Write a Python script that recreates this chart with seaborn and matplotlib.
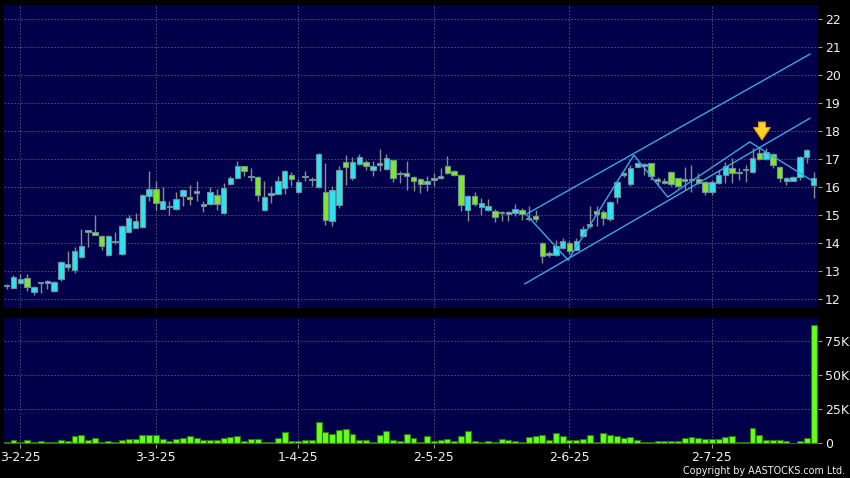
import matplotlib
matplotlib.use('Agg')
import numpy as np
import pandas as pd
import matplotlib.pyplot as plt
import seaborn as sns

# --- data -------------------------------------------------------------------

date_labels = ['3-2-25', '3-3-25', '1-4-25', '2-5-25', '2-6-25', '2-7-25']
date_idx = [2, 22, 43, 63, 83, 104]

opens = [12.45, 12.40, 12.57, 12.74, 12.24, 12.56, 12.58, 12.27, 12.72, 13.13,
         13.04, 13.49, 14.40, 14.38, 14.25, 13.56, 14.02, 13.60, 14.38, 14.55,
         14.57, 15.69, 15.93, 15.21, 15.29, 15.21, 15.67, 15.64, 15.80, 15.33,
         15.39, 15.70, 15.07, 16.11, 16.32, 16.74, 16.36, 16.36, 15.17, 15.73,
         15.76, 15.96, 16.42, 15.82, 16.36, 16.24, 16.00, 15.82, 14.80, 15.37,
         16.89, 16.32, 16.83, 16.89, 16.60, 16.80, 16.64, 16.95, 16.46, 16.50,
         16.35, 16.29, 16.10, 16.24, 16.32, 16.76, 16.56, 16.42, 15.17, 15.69,
         15.29, 15.17, 15.15, 15.07, 15.10, 15.07, 15.17, 14.89, 14.95, 14.00,
         13.58, 13.58, 13.84, 14.00, 13.76, 14.24, 14.60, 15.16, 15.10, 14.85,
         15.66, 16.43, 16.11, 16.73, 16.76, 16.85, 16.23, 16.23, 16.55, 16.31,
         16.23, 16.25, 16.28, 16.19, 15.84, 16.13, 16.43, 16.67, 16.49, 16.61,
         16.55, 17.20, 17.00, 17.17, 16.73, 16.22, 16.23, 16.37, 17.06, 16.08]
highs = [12.55, 12.85, 12.88, 12.88, 12.46, 12.58, 12.68, 12.65, 13.36, 13.71,
         13.87, 14.49, 14.42, 15.00, 14.27, 14.28, 14.40, 14.65, 15.00, 15.08,
         15.75, 16.58, 16.23, 16.00, 15.51, 15.81, 15.92, 16.08, 16.23, 15.51,
         16.00, 15.93, 16.14, 16.40, 16.94, 16.76, 16.68, 16.38, 16.20, 16.02,
         16.38, 16.60, 16.54, 16.30, 16.58, 16.36, 17.20, 16.86, 16.02, 16.76,
         17.15, 17.07, 17.18, 16.98, 16.92, 17.36, 17.18, 16.98, 16.56, 16.94,
         16.38, 16.31, 16.38, 16.50, 16.68, 17.12, 16.60, 16.45, 15.73, 15.81,
         15.60, 15.57, 15.21, 15.13, 15.13, 15.40, 15.25, 15.33, 15.19, 14.02,
         13.70, 14.12, 14.18, 14.06, 14.18, 14.60, 15.33, 15.33, 15.19, 15.50,
         16.25, 16.55, 16.79, 16.90, 16.87, 16.87, 16.35, 16.31, 16.58, 16.33,
         16.73, 16.79, 16.49, 16.20, 16.25, 16.61, 16.90, 17.02, 16.67, 16.79,
         17.38, 17.44, 17.38, 17.20, 16.75, 16.37, 16.40, 17.10, 17.35, 16.55]
lows = [12.35, 12.38, 12.55, 12.30, 12.14, 12.23, 12.35, 12.25, 12.64, 13.03,
        12.92, 13.45, 13.87, 14.28, 13.75, 13.55, 13.98, 13.58, 14.36, 14.52,
        14.55, 15.49, 15.17, 15.20, 15.00, 15.17, 15.33, 15.37, 15.49, 15.10,
        15.37, 15.19, 15.05, 16.08, 16.30, 16.38, 16.20, 15.49, 15.15, 15.43,
        15.74, 15.75, 16.02, 15.80, 16.20, 16.02, 15.95, 14.65, 14.60, 15.25,
        16.06, 16.26, 16.80, 16.62, 16.40, 16.56, 16.60, 16.17, 16.14, 15.90,
        15.85, 15.80, 15.85, 16.02, 16.30, 16.48, 16.40, 15.13, 14.77, 15.31,
        14.99, 15.15, 14.74, 14.77, 14.80, 14.95, 14.83, 14.77, 14.74, 13.29,
        13.50, 13.55, 13.80, 13.62, 13.74, 14.20, 14.53, 14.60, 14.65, 14.80,
        15.42, 16.35, 16.05, 16.70, 16.43, 16.25, 16.07, 16.10, 16.02, 15.98,
        15.90, 15.84, 16.10, 15.72, 15.72, 16.10, 16.16, 16.16, 16.25, 16.19,
        16.50, 16.96, 16.96, 16.67, 16.19, 16.07, 16.20, 16.25, 16.85, 15.60]
closes = [12.45, 12.77, 12.73, 12.44, 12.42, 12.56, 12.58, 12.62, 13.31, 13.25,
          13.71, 13.90, 14.40, 14.29, 13.90, 14.26, 14.02, 14.62, 14.88, 14.80,
          15.73, 15.93, 15.43, 15.50, 15.29, 15.57, 15.90, 15.57, 15.80, 15.33,
          15.82, 15.39, 15.96, 16.32, 16.76, 16.56, 16.36, 15.70, 15.64, 15.73,
          16.20, 16.56, 16.29, 16.18, 16.36, 16.24, 17.18, 14.83, 15.88, 16.60,
          16.71, 16.88, 17.07, 16.74, 16.74, 16.80, 17.04, 16.32, 16.46, 16.40,
          16.20, 16.11, 16.20, 16.32, 16.40, 16.50, 16.42, 15.37, 15.69, 15.39,
          15.43, 15.31, 14.93, 15.07, 15.05, 15.21, 15.05, 14.86, 14.86, 13.55,
          13.58, 13.88, 14.08, 13.70, 14.08, 14.51, 14.68, 15.03, 14.89, 15.48,
          16.19, 16.51, 16.69, 16.85, 16.82, 16.40, 16.23, 16.13, 16.11, 16.04,
          16.23, 16.25, 16.13, 15.84, 16.19, 16.43, 16.75, 16.49, 16.49, 16.61,
          17.02, 16.99, 17.26, 16.79, 16.31, 16.34, 16.37, 17.06, 17.32, 16.31]

# volume in thousands of shares
volume_k = [0.7, 2.5, 0.7, 2.5, 1.0, 1.5, 1.0, 1.0, 2.2, 1.7,
            5.4, 5.9, 2.5, 3.7, 1.2, 1.5, 1.2, 2.2, 2.9, 2.9,
            6.1, 6.4, 5.9, 2.9, 1.5, 3.2, 4.2, 5.1, 4.2, 2.2,
            2.2, 2.2, 4.2, 4.7, 5.4, 1.7, 3.2, 3.2, 1.0, 1.2,
            3.7, 8.3, 2.0, 2.0, 2.5, 2.7, 15.9, 8.1, 6.9, 9.6,
            10.5, 6.6, 2.2, 2.2, 1.0, 6.1, 8.8, 2.7, 2.0, 6.9,
            3.7, 1.2, 5.4, 1.7, 2.5, 2.9, 1.7, 5.4, 8.8, 2.0,
            1.0, 1.5, 1.0, 3.4, 2.2, 1.7, 1.2, 4.9, 5.1, 5.9,
            2.2, 7.6, 5.4, 2.5, 2.5, 3.2, 6.4, 0.7, 7.8, 5.9,
            5.1, 3.9, 4.7, 2.7, 1.2, 1.2, 1.7, 2.0, 2.0, 2.0,
            4.2, 4.9, 3.7, 3.4, 3.2, 3.2, 4.4, 5.1, 0.7, 0.7,
            11.0, 5.9, 2.2, 2.5, 2.5, 1.7, 0.5, 1.5, 3.7, 87.0]

# trend channel / zigzag overlays (candle index, price)
upper_x = [76.7, 118.5]
upper_y = [15.04, 20.75]
lower_x = [76.4, 118.5]
lower_y = [12.54, 18.46]
zig_x = [76.7, 82.8, 92.5, 97.5, 109.6, 118.9]
zig_y = [15.00, 13.39, 17.14, 15.64, 17.61, 16.21]

# signal arrow (candle index, tail price, tip price)
arrow_x = 111.4
arrow_from = 18.42
arrow_to = 17.58

price_ticks = list(range(12, 23))
vol_ticks = [0, 25, 50, 75]
vol_labels = ['0', '25K', '50K', '75K']

# --- styling ------------------------------------------------------------------

PANEL = '#00004a'
GRID = '#58587e'
CYAN = '#2ce4f0'
GREEN = '#7de82a'
DOJI = '#8fb3c4'
WICK = '#8a8a8a'
LINE = '#3ea6e2'
VOLG = '#66ff1c'

sns.set_style('dark', {'axes.facecolor': PANEL, 'figure.facecolor': 'black'})
plt.rcParams['font.family'] = ['DejaVu Sans']

df = pd.DataFrame({'o': opens, 'h': highs, 'l': lows, 'c': closes, 'v': volume_k})
df['i'] = np.arange(len(df))
df['bottom'] = df[['o', 'c']].min(axis=1)
df['height'] = (df['c'] - df['o']).abs().clip(lower=0.05)
df['color'] = np.where(df['c'] > df['o'], CYAN,
                       np.where(df['c'] < df['o'], GREEN, DOJI))

fig = plt.figure(figsize=(8.5, 4.78), dpi=100, facecolor='black')
ax = fig.add_axes([4 / 850, 1 - 308 / 478, 814 / 850, 303 / 478])
axv = fig.add_axes([4 / 850, 1 - 444 / 478, 814 / 850, 126 / 478], sharex=ax)

# price panel
ax.vlines(df['i'], df['l'], df['h'], color=WICK, lw=1, zorder=2)
ax.bar(df['i'], df['height'], bottom=df['bottom'], width=0.8,
       color=df['color'], edgecolor='#6f8f98', linewidth=0.8, zorder=3)

sns.lineplot(x=upper_x, y=upper_y, ax=ax, color=LINE, lw=1.0, estimator=None, zorder=4)
sns.lineplot(x=lower_x, y=lower_y, ax=ax, color=LINE, lw=1.0, estimator=None, zorder=4)
sns.lineplot(x=zig_x, y=zig_y, ax=ax, color=LINE, lw=1.0, estimator=None,
             sort=False, zorder=4)

ax.annotate('', xy=(arrow_x, arrow_to), xytext=(arrow_x, arrow_from),
            arrowprops=dict(arrowstyle='simple,head_width=1.2,head_length=0.9,tail_width=0.5',
                            fc='#ffd226', ec='#e09a00', lw=0.8), zorder=6)

ax.set_ylim(11.68, 22.5)
ax.set_yticks(price_ticks)
ax.set_xticks(date_idx)

# volume panel
sns.barplot(x=df['i'], y=df['v'], ax=axv, native_scale=True, color=VOLG,
            saturation=1, edgecolor='#2e7a08', linewidth=0.8, width=0.88, zorder=3)
axv.set_ylim(-0.5, 92)
axv.set_yticks(vol_ticks)
axv.set_yticklabels(vol_labels)
axv.set_xticks(date_idx)
axv.set_xticklabels(date_labels)
axv.set_xlim(-0.4, 119.66)
axv.set_xlabel('')
axv.set_ylabel('')

for a in (ax, axv):
    a.set_facecolor(PANEL)
    a.grid(True, color=GRID, ls=(0, (2, 2)), lw=0.6)
    a.set_axisbelow(True)
    for s in a.spines.values():
        s.set_visible(False)
    a.yaxis.tick_right()
    a.tick_params(axis='y', which='both', right=True, left=False, length=3,
                  width=0.8, color='#9a9a9a', labelcolor='#f0f0f0',
                  labelsize=9, pad=2)
    a.set_xlabel('')
    a.set_ylabel('')

ax.tick_params(axis='x', bottom=False, labelbottom=False)
axv.tick_params(axis='x', bottom=True, length=3, width=0.8, color='#9a9a9a',
                labelcolor='#f0f0f0', labelsize=9, pad=2)

fig.text(845 / 850, 1 - 471 / 478, 'Copyright by AASTOCKS.com Ltd.',
         color='#f0f0f0', fontsize=6.9, ha='right', va='center')

fig.savefig('out.png', dpi=100, facecolor='black')
